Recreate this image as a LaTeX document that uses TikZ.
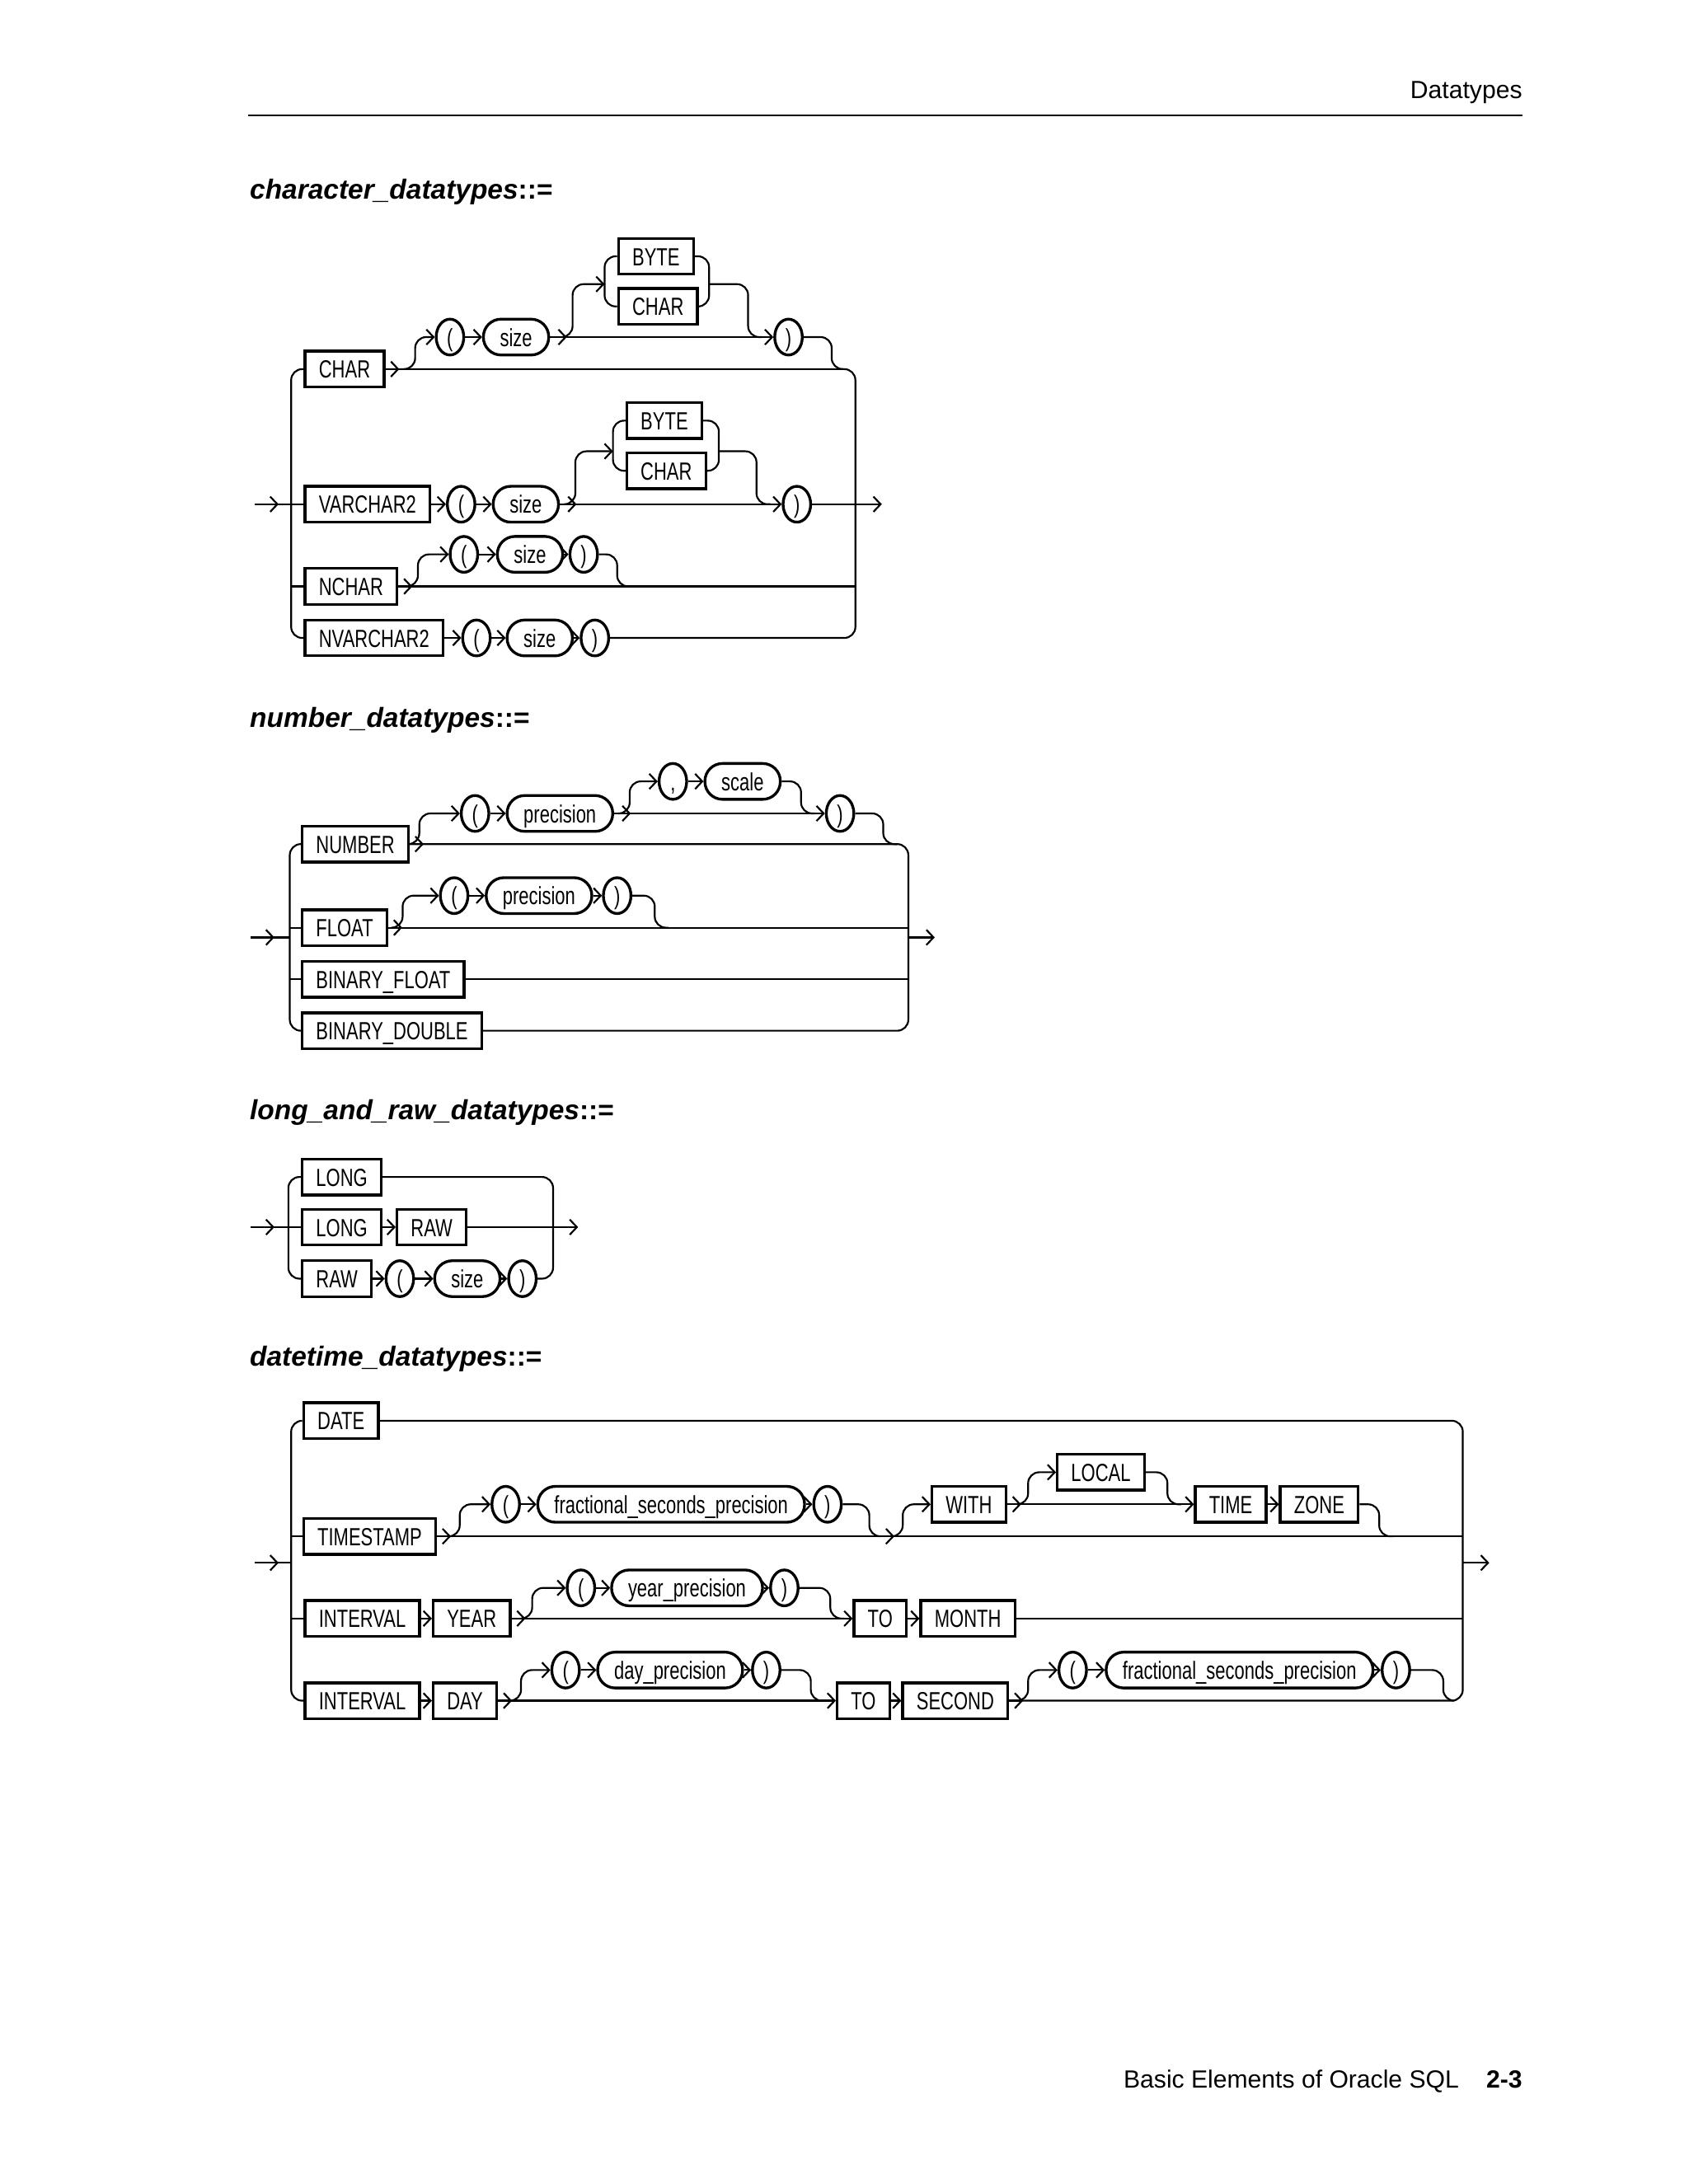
\documentclass[tikz,border=0pt]{standalone}
\usepackage{fontspec}
\setmainfont{Liberation Sans}
\newfontfamily\diafont[FakeStretch=0.73]{Liberation Sans}
\usetikzlibrary{arrows.meta,shapes.geometric}
\begin{document}
\begin{tikzpicture}[x=0.505pt,y=-0.505pt,
 dia/.style={font=\diafont\fontsize{9}{10}\selectfont, text height=6.6pt, text depth=0pt},
 kw/.style={dia, draw, line width=1pt, minimum height=13pt, inner xsep=5pt, inner ysep=0pt, anchor=west},
 ov/.style={dia, draw, line width=1pt, rounded corners=6.4pt, minimum height=13pt, inner xsep=6pt, inner ysep=0pt, anchor=west},
 pa/.style={dia, draw, ellipse, line width=1pt, minimum width=10pt, minimum height=13pt, inner sep=0pt},
 ln/.style={line width=0.65pt, rounded corners=4pt},
 ar/.style={-{Straight Barb[length=2.6pt,width=5.5pt]}},
 ttl/.style={font=\fontsize{10}{12}\selectfont\bfseries\itshape, anchor=base west, inner sep=0pt},
 hdr/.style={font=\fontsize{9}{11}\selectfont, anchor=base east, inner sep=0pt}]
\useasboundingbox (0,0) rectangle (1212,1568);
% header/footer
\node[hdr] (hd) at (1093,71) {Datatypes};
\draw[line width=0.5pt] (178,83) -- (1093,83);
\node[hdr] (ft) at (1093,1499) {Basic Elements of Oracle SQL\hspace{1.1em}\textbf{2-3}};
% titles
\node[ttl] (t1) at (179,143) {character\_datatypes\upshape::=};
\node[ttl] (t2) at (179,522) {number\_datatypes\upshape::=};
\node[ttl] (t3) at (179,804) {long\_and\_raw\_datatypes\upshape::=};
\node[ttl] (t4) at (179,981) {datetime\_datatypes\upshape::=};

%%%%%%%% character
\node[kw] (cchar) at (218,265) {CHAR};
\node[pa] (clp) at (323,242) {(};
\node[ov] (csize) at (346,242) {size};
\node[kw] (cbyte) at (443,184) {BYTE};
\node[kw] (cchar2) at (443,220) {CHAR};
\node[pa] (crp) at (566,242) {)};
\node[kw] (vc) at (218,362) {VARCHAR2};
\node[pa] (vlp) at (331,362) {(};
\node[ov] (vsize) at (353,362) {size};
\node[kw] (vbyte) at (449,302) {BYTE};
\node[kw] (vchar) at (449,338) {CHAR};
\node[pa] (vrp) at (572,362) {)};
\node[kw] (nc) at (218,421) {NCHAR};
\node[pa] (nlp) at (333,398) {(};
\node[ov] (nsize) at (356,398) {size};
\node[pa] (nrp) at (419,398) {)};
\node[kw] (nvc) at (218,458) {NVARCHAR2};
\node[pa] (nvlp) at (342,458) {(};
\node[ov] (nvsize) at (363,458) {size};
\node[pa] (nvrp) at (427,458) {)};
\coordinate (cin) at (183,362);
\coordinate (cout) at (633,362);
% rails
\draw[ln] (cchar.west) -- (209,265) -- (209,458) -- (nvc.west);
\draw[ln] (209,421) -- (nc.west);
\draw[ln] (cin) -- (vc.west);
\draw[ln,ar] (cin) -- (200,362);
\draw[ln] (cchar.east) -- (614,265) -- (614,458) -- (nvrp.east);
% row 1
\draw[ln,ar] (cchar.east) -- ++(10,0);
\draw[ln,ar] (290,265) -- (298,265) |- (clp.west);
\draw[ln,ar] (clp.east) -- (csize.west);
\draw[ln,ar] (csize.east) -- ++(12,0);
\draw[ln,ar] (csize.east) -- (crp.west);
\draw[ln,ar] (403,242) -- (411,242) |- (434,204);
\draw[ln] (cbyte.west) -- (434,184) -- (434,220) -- (cchar2.west);
\draw[ln] (cbyte.east) -| (509,220) -- (cchar2.east);
\draw[ln] (509,204) -- (537,204) -- (537,242) -- (547,242);
\draw[ln] (crp.east) -- (597,242) -- (597,265) -- (606,265);
% row 2
\draw[ln,ar] (vc.east) -- (vlp.west);
\draw[ln,ar] (vlp.east) -- (vsize.west);
\draw[ln,ar] (vsize.east) -- ++(12,0);
\draw[ln,ar] (vsize.east) -- (vrp.west);
\draw[ln,ar] (405,362) -- (413,362) |- (440,324);
\draw[ln] (vbyte.west) -- (440,302) -- (440,338) -- (vchar.west);
\draw[ln] (vbyte.east) -| (516,338) -- (vchar.east);
\draw[ln] (516,324) -- (543,324) -- (543,362) -- (553,362);
\draw[ln,ar] (vrp.east) -- (cout);
% row 3
\draw[ln,ar] (nc.east) -- ++(10,0);
\draw[ln] (nc.east) -- (614,421);
\draw[ln,ar] (292,421) -- (300,421) |- (nlp.west);
\draw[ln,ar] (nlp.east) -- (nsize.west);
\draw[ln,ar] (nsize.east) -- (nrp.west);
\draw[ln] (nrp.east) -- (443,398) -- (443,421) -- (452,421);
% row 4
\draw[ln,ar] (nvc.east) -- (nvlp.west);
\draw[ln,ar] (nvlp.east) -- (nvsize.west);
\draw[ln,ar] (nvsize.east) -- (nvrp.west);

%%%%%%%% number
\node[kw] (num) at (216,606) {NUMBER};
\node[pa] (mlp) at (341,584) {(};
\node[ov] (mprec) at (363,584) {precision};
\node[pa] (mcom) at (483,561) {,};
\node[ov] (mscale) at (505,561) {scale};
\node[pa] (mrp) at (603,584) {)};
\node[kw] (flt) at (216,666) {FLOAT};
\node[pa] (flp) at (326,643) {(};
\node[ov] (fprec) at (348,643) {precision};
\node[pa] (frp) at (443,643) {)};
\node[kw] (bf) at (216,703) {BINARY\_FLOAT};
\node[kw] (bd) at (216,740) {BINARY\_DOUBLE};
\coordinate (nin) at (180,673);
\coordinate (nout) at (671,673);
\draw[ln] (num.west) -- (208,606) -- (208,740) -- (bd.west);
\draw[ln] (208,666) -- (flt.west);
\draw[ln] (208,703) -- (bf.west);
\draw[ln] (nin) -- (208,673);
\draw[ln,ar] (nin) -- (197,673);
\draw[ln] (num.east) -- (652,606) -- (652,740) -- (bd.east);
\draw[ln,ar] (652,673) -- (nout);
\draw[ln] (flt.east) -- (652,666);
\draw[ln] (bf.east) -- (652,703);
\draw[ln,ar] (num.east) -- ++(10,0);
\draw[ln,ar] (293,606) -- (301,606) |- (mlp.west);
\draw[ln,ar] (mlp.east) -- (mprec.west);
\draw[ln,ar] (mprec.east) -- ++(12,0);
\draw[ln,ar] (mprec.east) -- (mrp.west);
\draw[ln,ar] (444,584) -- (452,584) |- (mcom.west);
\draw[ln,ar] (mcom.east) -- (mscale.west);
\draw[ln] (mscale.east) -- (575,561) -- (575,584) -- (585,584);
\draw[ln] (mrp.east) -- (634,584) -- (634,606) -- (644,606);
\draw[ln,ar] (flt.east) -- ++(10,0);
\draw[ln,ar] (281,666) -- (289,666) |- (flp.west);
\draw[ln,ar] (flp.east) -- (fprec.west);
\draw[ln,ar] (fprec.east) -- (frp.west);
\draw[ln] (frp.east) -- (470,643) -- (470,666) -- (480,666);

%%%%%%%% long/raw
\node[kw] (lg1) at (216,845) {LONG};
\node[kw] (lg2) at (216,881) {LONG};
\node[kw] (rw1) at (284,881) {RAW};
\node[kw] (rw2) at (216,918) {RAW};
\node[pa] (llp) at (287,918) {(};
\node[ov] (lsize) at (311,918) {size};
\node[pa] (lrp) at (375,918) {)};
\coordinate (lin) at (180,881);
\coordinate (lout) at (415,881);
\draw[ln] (lg1.west) -- (207,845) -- (207,918) -- (rw2.west);
\draw[ln] (lin) -- (lg2.west);
\draw[ln,ar] (lin) -- (197,881);
\draw[ln] (lg1.east) -- (397,845) -- (397,918) -- (lrp.east);
\draw[ln,ar] (lg2.east) -- (rw1.west);
\draw[ln,ar] (rw1.east) -- (lout);
\draw[ln,ar] (rw2.east) -- (llp.west);
\draw[ln,ar] (llp.east) -- (lsize.west);
\draw[ln,ar] (lsize.east) -- (lrp.west);

%%%%%%%% datetime
\node[kw] (date) at (217,1020) {DATE};
\node[kw] (ts) at (217,1103) {TIMESTAMP};
\node[pa] (tlp) at (363,1080) {(};
\node[ov] (tfsp) at (385,1080) {fractional\_seconds\_precision};
\node[pa] (trp) at (594,1080) {)};
\node[kw] (with) at (668,1080) {WITH};
\node[kw] (local) at (758,1057) {LOCAL};
\node[kw] (time) at (857,1080) {TIME};
\node[kw] (zone) at (918,1080) {ZONE};
\node[kw] (iv1) at (218,1162) {INTERVAL};
\node[kw] (year) at (310,1162) {YEAR};
\node[pa] (ylp) at (417,1140) {(};
\node[ov] (yprec) at (438,1140) {year\_precision};
\node[pa] (yrp) at (563,1140) {)};
\node[kw] (to1) at (612,1162) {TO};
\node[kw] (month) at (660,1162) {MONTH};
\node[kw] (iv2) at (218,1221) {INTERVAL};
\node[kw] (day) at (310,1221) {DAY};
\node[pa] (dlp) at (406,1199) {(};
\node[ov] (dprec) at (428,1199) {day\_precision};
\node[pa] (drp) at (550,1199) {)};
\node[kw] (to2) at (600,1221) {TO};
\node[kw] (sec) at (647,1221) {SECOND};
\node[pa] (slp) at (770,1199) {(};
\node[ov] (sfsp) at (793,1199) {fractional\_seconds\_precision};
\node[pa] (srp) at (1002,1199) {)};
\coordinate (din) at (183,1122);
\coordinate (dout) at (1069,1122);
\draw[ln] (date.west) -- (209,1020) -- (209,1221) -- (iv2.west);
\draw[ln] (209,1103) -- (ts.west);
\draw[ln] (209,1162) -- (iv1.west);
\draw[ln] (din) -- (209,1122);
\draw[ln,ar] (din) -- (200,1122);
\draw[ln] (date.east) -- (1050,1020) -- (1050,1221) -- (sec.east);
\draw[ln,ar] (1050,1122) -- (dout);
\draw[ln] (ts.east) -- (1050,1103);
\draw[ln] (month.east) -- (1050,1162);
% timestamp
\draw[ln,ar] (ts.east) -- ++(10,0);
\draw[ln,ar] (322,1103) -- (330,1103) |- (tlp.west);
\draw[ln,ar] (tlp.east) -- (tfsp.west);
\draw[ln,ar] (tfsp.east) -- (trp.west);
\draw[ln] (trp.east) -- (624,1080) -- (624,1103) -- (632,1103);
\draw[ln,ar] (632,1103) -- (642,1103);
\draw[ln,ar] (640,1103) -- (648,1103) |- (with.west);
\draw[ln,ar] (with.east) -- ++(10,0);
\draw[ln,ar] (with.east) -- (time.west);
\draw[ln,ar] (730,1080) -- (738,1080) |- (local.west);
\draw[ln] (local.east) -- (838,1057) -- (838,1080) -- (848,1080);
\draw[ln,ar] (time.east) -- (zone.west);
\draw[ln] (zone.east) -- (990,1080) -- (990,1103) -- (1000,1103);
% interval year
\draw[ln,ar] (iv1.east) -- (year.west);
\draw[ln,ar] (year.east) -- ++(10,0);
\draw[ln,ar] (year.east) -- (to1.west);
\draw[ln,ar] (374,1162) -- (382,1162) |- (ylp.west);
\draw[ln,ar] (ylp.east) -- (yprec.west);
\draw[ln,ar] (yprec.east) -- (yrp.west);
\draw[ln] (yrp.east) -- (596,1140) -- (596,1162) -- (606,1162);
\draw[ln,ar] (to1.east) -- (month.west);
% interval day
\draw[ln,ar] (iv2.east) -- (day.west);
\draw[ln,ar] (day.east) -- ++(10,0);
\draw[ln,ar] (day.east) -- (to2.west);
\draw[ln,ar] (366,1221) -- (374,1221) |- (dlp.west);
\draw[ln,ar] (dlp.east) -- (dprec.west);
\draw[ln,ar] (dprec.east) -- (drp.west);
\draw[ln] (drp.east) -- (582,1199) -- (582,1221) -- (592,1221);
\draw[ln,ar] (to2.east) -- (sec.west);
\draw[ln,ar] (sec.east) -- ++(10,0);
\draw[ln,ar] (730,1221) -- (738,1221) |- (slp.west);
\draw[ln,ar] (slp.east) -- (sfsp.west);
\draw[ln,ar] (sfsp.east) -- (srp.west);
\draw[ln] (srp.east) -- (1036,1199) -- (1036,1221) -- (1044,1221);
\end{tikzpicture}
\end{document}
